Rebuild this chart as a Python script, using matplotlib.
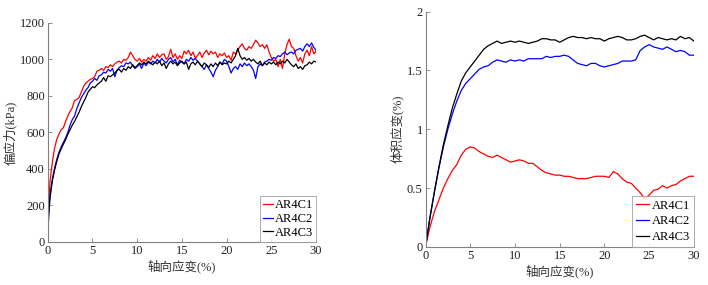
import matplotlib
matplotlib.use("Agg")
import matplotlib.pyplot as plt
from matplotlib.ticker import FuncFormatter

# ---------------- data: deviator stress (kPa) vs axial strain (%) ----------------
strain_q = [0, 0.1] + [0.25 * i for i in range(1, 121)]

q_c1 = [0, 200, 330, 430, 510, 560, 590, 615, 625, 660, 690, 715, 735, 775, 780, 790,
        820, 850, 870, 880, 890, 895, 905, 935, 940, 950, 940, 960, 955, 970, 960, 975,
        985, 990, 980, 1000, 995, 1010, 1040, 1020, 1000, 990, 1005, 985, 1000, 990, 1010,
        995, 1020, 1005, 1030, 1010, 1025, 1030, 1000, 1015, 1055, 1010, 1030, 1000, 1020,
        1005, 1045, 1030, 1050, 1020, 1040, 1005, 1020, 1040, 1010, 1035, 1050, 1025, 1045,
        1030, 1040, 1010, 1030, 1020, 1035, 1010, 1020, 995, 1040, 1030, 1050, 1070, 1085,
        1060, 1050, 1070, 1060, 1080, 1105, 1090, 1070, 1080, 1060, 1080, 1040, 1010, 990,
        1000, 960, 1000, 950, 1030, 1080, 1110, 1070, 1060, 1020, 990, 1010, 980, 1030, 1050,
        1020, 1070, 1030, 1045]

q_c2 = [0, 150, 250, 340, 400, 450, 490, 520, 545, 570, 600, 640, 670, 690, 730, 760,
        790, 810, 830, 845, 870, 880, 895, 885, 910, 915, 930, 925, 945, 935, 950, 905,
        940, 955, 965, 960, 980, 975, 985, 965, 950, 960, 975, 950, 980, 965, 985, 975,
        990, 980, 1000, 985, 1005, 990, 980, 1000, 1010, 985, 1000, 970, 995, 985, 975,
        1000, 990, 1010, 995, 1005, 990, 975, 960, 945, 970, 950, 930, 905, 940, 960, 985,
        975, 1000, 990, 960, 925, 950, 960, 945, 975, 960, 980, 965, 975, 960, 940, 895,
        960, 975, 965, 985, 990, 1000, 995, 1010, 1005, 1020, 1015, 1030, 1040, 1025, 1035,
        1040, 1030, 1050, 1055, 1060, 1045, 1070, 1085, 1070, 1090, 1065, 1050]

q_c3 = [0, 140, 240, 330, 390, 440, 480, 510, 535, 560, 590, 615, 640, 660, 685, 710,
        740, 765, 790, 820, 835, 850, 845, 860, 870, 880, 900, 880, 910, 905, 915, 925,
        940, 945, 930, 950, 940, 960, 950, 970, 955, 965, 980, 970, 985, 975, 990, 980,
        970, 985, 975, 990, 965, 980, 950, 975, 990, 975, 985, 965, 980, 990, 975, 985,
        945, 975, 985, 970, 990, 975, 960, 980, 970, 955, 975, 960, 980, 965, 985, 970,
        980, 975, 990, 980, 1000, 1020, 1060, 1020, 1000, 1010, 995, 1005, 990, 1000, 985,
        975, 990, 965, 980, 970, 985, 975, 985, 970, 985, 975, 990, 980, 1000, 985, 970,
        960, 975, 950, 960, 945, 965, 970, 985, 975, 990, 985]

# ---------------- data: volumetric strain (%) vs axial strain (%) ----------------
strain_v = [0.5 * i for i in range(61)]

v_c1 = [0, 0.17, 0.30, 0.40, 0.50, 0.58, 0.65, 0.70, 0.78, 0.83, 0.85, 0.84, 0.81, 0.79,
        0.77, 0.76, 0.78, 0.76, 0.74, 0.72, 0.73, 0.74, 0.73, 0.71, 0.71, 0.68, 0.65, 0.63,
        0.62, 0.61, 0.61, 0.60, 0.60, 0.59, 0.58, 0.58, 0.58, 0.59, 0.60, 0.60, 0.60, 0.59,
        0.64, 0.62, 0.58, 0.55, 0.54, 0.50, 0.46, 0.41, 0.44, 0.48, 0.49, 0.52, 0.50, 0.52,
        0.53, 0.56, 0.58, 0.60, 0.60]

v_c2 = [0, 0.25, 0.47, 0.67, 0.85, 1.00, 1.13, 1.24, 1.33, 1.39, 1.43, 1.47, 1.51, 1.53,
        1.54, 1.57, 1.59, 1.58, 1.57, 1.59, 1.58, 1.59, 1.58, 1.60, 1.60, 1.60, 1.60, 1.62,
        1.61, 1.62, 1.62, 1.63, 1.62, 1.59, 1.56, 1.55, 1.54, 1.56, 1.56, 1.54, 1.53, 1.54,
        1.55, 1.56, 1.58, 1.58, 1.58, 1.59, 1.67, 1.70, 1.72, 1.70, 1.69, 1.68, 1.70, 1.68,
        1.66, 1.67, 1.66, 1.63, 1.63]

v_c3 = [0, 0.25, 0.47, 0.68, 0.87, 1.03, 1.18, 1.30, 1.41, 1.48, 1.53, 1.58, 1.63, 1.68,
        1.71, 1.73, 1.75, 1.73, 1.74, 1.75, 1.74, 1.75, 1.74, 1.73, 1.74, 1.75, 1.77, 1.77,
        1.76, 1.76, 1.74, 1.76, 1.78, 1.79, 1.78, 1.78, 1.77, 1.78, 1.77, 1.77, 1.75, 1.77,
        1.78, 1.79, 1.78, 1.76, 1.76, 1.77, 1.79, 1.80, 1.78, 1.76, 1.78, 1.77, 1.76, 1.77,
        1.76, 1.79, 1.77, 1.78, 1.75]

labels = ["AR4C1", "AR4C2", "AR4C3"]
colors = ["#ff0000", "#0000ff", "#000000"]

xticks = [0, 5, 10, 15, 20, 25, 30]
q_ticks = [0, 200, 400, 600, 800, 1000, 1200]
v_ticks = [0, 0.5, 1, 1.5, 2]

xlabel = "轴向应变(%)"
ylabel_q = "偏应力(kPa)"
ylabel_v = "体积应变(%)"

FAM = ["Liberation Serif", "Noto Sans CJK SC", "DejaVu Sans"]
plt.rcParams["font.family"] = FAM
plt.rcParams["font.size"] = 9

fig = plt.figure(figsize=(7.08, 2.85), dpi=100)
ax1 = fig.add_axes([0.0674, 0.151, 0.379, 0.769])
ax2 = fig.add_axes([0.601, 0.134, 0.379, 0.825])

spine_col = "#808080"

def style(ax):
    for s in ["top", "right"]:
        ax.spines[s].set_visible(False)
    for s in ["left", "bottom"]:
        ax.spines[s].set_color(spine_col)
        ax.spines[s].set_linewidth(0.8)
    ax.tick_params(direction="in", length=3, width=0.6, color=spine_col,
                   labelsize=9, labelcolor="#222222", pad=2)

for y, lab, c in zip([q_c1, q_c2, q_c3], labels, colors):
    ax1.plot(strain_q, y, color=c, lw=0.9, label=lab)
ax1.set_xlim(0, 30)
ax1.set_ylim(0, 1200)
ax1.set_xticks(xticks)
ax1.set_yticks(q_ticks)
ax1.set_xlabel(xlabel, fontsize=9, color="#333333", labelpad=2)
ax1.set_ylabel(ylabel_q, fontsize=9, color="#333333", labelpad=2)
style(ax1)
leg1 = ax1.legend(loc="lower right", borderaxespad=0, fontsize=9, frameon=True,
                  fancybox=False, handlelength=0.8, handletextpad=0.1,
                  labelspacing=0.15, borderpad=0.25)
leg1.get_frame().set_edgecolor("#999999")
leg1.get_frame().set_linewidth(0.7)

for y, lab, c in zip([v_c1, v_c2, v_c3], labels, colors):
    ax2.plot(strain_v, y, color=c, lw=0.9, label=lab)
ax2.set_xlim(0, 30)
ax2.set_ylim(0, 2)
ax2.set_xticks(xticks)
ax2.set_yticks(v_ticks)
ax2.yaxis.set_major_formatter(FuncFormatter(lambda v, p: "%g" % v))
ax2.set_xlabel(xlabel, fontsize=9, color="#333333", labelpad=2)
ax2.set_ylabel(ylabel_v, fontsize=9, color="#333333", labelpad=2)
style(ax2)
leg2 = ax2.legend(loc="lower right", borderaxespad=0, fontsize=9, frameon=True,
                  fancybox=False, handlelength=1.1, handletextpad=0.2,
                  labelspacing=0.3, borderpad=0.3)
leg2.get_frame().set_edgecolor("#999999")
leg2.get_frame().set_linewidth(0.7)

fig.savefig("out.png", dpi=100)
